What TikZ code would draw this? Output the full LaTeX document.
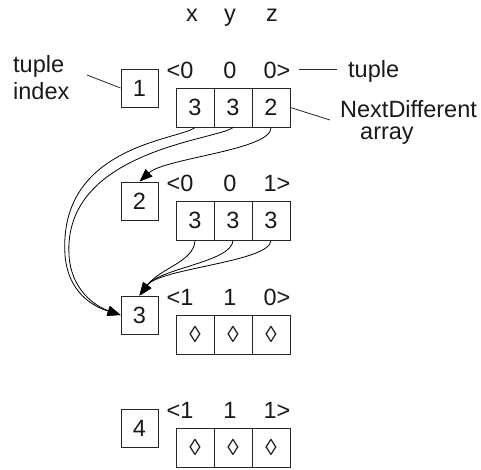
\documentclass[tikz,border=0pt]{standalone}
\usepackage{fontspec}
\setmainfont{Liberation Sans}
\usetikzlibrary{arrows.meta}
\newcommand\lzg{{\fontsize{23}{25}\selectfont ◊}}
\begin{document}
\begin{tikzpicture}[x=1pt,y=-1pt,
  every node/.style={font=\fontsize{23.5}{27}\selectfont, inner sep=0pt, text=black!90},
  idxbox/.style={draw=black!85, line width=0.9pt, minimum width=37pt, minimum height=38pt},
  cellbox/.style={draw=black!85, line width=0.9pt, minimum width=38pt, minimum height=39pt},
  link/.style={draw=black, line width=0.8pt, -{Triangle[length=13pt,width=10pt]}},
  pointer/.style={draw=black!85, line width=0.8pt}]
\useasboundingbox (0,0) rectangle (481,469);

% column headers
\node[anchor=base] (hx) at (192,21) {x};
\node[anchor=base] (hy) at (230,21) {y};
\node[anchor=base] (hz) at (272,21) {z};

% one row per tuple: index box, tuple values, NextDifferent cells
\foreach \r/\dy/\ta/\tb/\tc/\ca/\cb/\cc in {
  1/0/<0/0/0>/3/3/2,
  2/113/<0/0/1>/3/3/3,
  3/227/<1/1/0>/\lzg/\lzg/\lzg,
  4/340/<1/1/1>/\lzg/\lzg/\lzg}{
  \node[idxbox] (b\r) at (139.5,88+\dy) {\r};
  \node (t\r-1) at (180,70+\dy) {\ta};
  \node (t\r-2) at (230,70+\dy) {\tb};
  \node (t\r-3) at (277,70+\dy) {\tc};
  \node[cellbox] (c\r-1) at (195,107.5+\dy) {\ca};
  \node[cellbox] (c\r-2) at (233,107.5+\dy) {\cb};
  \node[cellbox] (c\r-3) at (271,107.5+\dy) {\cc};
}

% annotations
\node[align=left, anchor=north west] (lidx) at (13,55) {tuple\\index};
\node[anchor=base west] (ltup) at (348,77) {tuple};
\node[anchor=base west] (lnd) at (340,117) {NextDifferent};
\node[anchor=base west] (larr) at (360,139) {array};
\coordinate (pidx) at (87,75);
\coordinate (ptupa) at (299,69);
\coordinate (ptupb) at (337,69);
\coordinate (pnd) at (330,120);
\draw[pointer] (pidx) -- (b1.west);
\draw[pointer] (ptupa) -- (ptupb);
\draw[pointer] (c1-3.east) -- (pnd);

% jumps of row 1
\draw[link] (c1-1.south) .. controls (180,140) and (58,145) .. (65,255)
  .. controls (68,292) and (92,306) .. (b3.west);
\draw[link] (c1-2.south) .. controls (218,140) and (63,150) .. (69,255)
  .. controls (71,290) and (95,306) .. (b3.west);
\draw[link] (c1-3.south) .. controls (272,150) and (165,158) .. (b2.north);

% jumps of row 2
\draw[link] (c2-1.south) .. controls (194,262) and (160,268) .. (b3.north);
\draw[link] (c2-2.south) .. controls (232,262) and (160,268) .. (b3.north);
\draw[link] (c2-3.south) .. controls (270,262) and (160,268) .. (b3.north);
\end{tikzpicture}
\end{document}
